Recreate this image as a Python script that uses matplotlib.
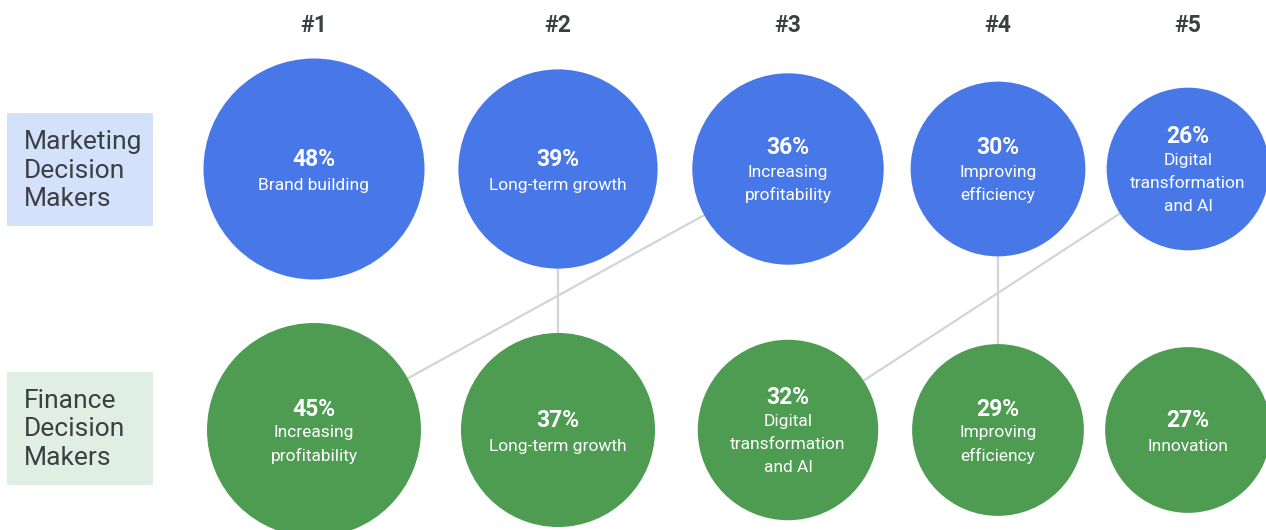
import numpy as np
import matplotlib.pyplot as plt
from matplotlib.patches import Circle, Rectangle

plt.rcParams['font.family'] = ['Roboto', 'DejaVu Sans']

ranks = ['#1', '#2', '#3', '#4', '#5']
groups = ['Marketing\nDecision\nMakers', 'Finance\nDecision\nMakers']

mkt_pct = [48, 39, 36, 30, 26]
mkt_labels = ['Brand building', 'Long-term growth', 'Increasing\nprofitability',
              'Improving\nefficiency', 'Digital\ntransformation\nand AI']

fin_pct = [45, 37, 32, 29, 27]
fin_labels = ['Increasing\nprofitability', 'Long-term growth',
              'Digital\ntransformation\nand AI', 'Improving\nefficiency', 'Innovation']

# layout (pixel space, y grows downward)
col_x = [314, 558, 788, 998, 1188]
row_y = [169, 430]
k = 15.95  # radius scale, area ~ value
colors = ['#4878E8', '#4E9C51']
box_colors = ['#D3E1FB', '#DFEFE3']
text_dark = '#3C4043'

fig = plt.figure(figsize=(12.66, 5.30), dpi=100)
ax = fig.add_axes([0, 0, 1, 1])
ax.set_xlim(0, 1266)
ax.set_ylim(530, 0)
ax.axis('off')

# connectors between the same priority in both groups
key = lambda s: s.replace('\n', ' ')
for i, ml in enumerate(mkt_labels):
    for j, fl in enumerate(fin_labels):
        if key(ml) == key(fl):
            ax.plot([col_x[i], col_x[j]], [row_y[0], row_y[1]],
                    color='#D2D4D7', lw=1.6, zorder=1, solid_capstyle='butt')

for r, (pcts, labels) in enumerate([(mkt_pct, mkt_labels), (fin_pct, fin_labels)]):
    for i, (v, lab) in enumerate(zip(pcts, labels)):
        cx, cy = col_x[i], row_y[r]
        ax.add_patch(Circle((cx, cy), k * np.sqrt(v), color=colors[r], lw=0, zorder=2))
        lines = lab.split('\n')
        n = len(lines) + 1
        step = 23
        y0 = cy + 3 - (n - 1) / 2 * step
        ax.text(cx, y0 - 1, f'{v}%', color='white', fontsize=16.5, fontweight='bold',
                ha='center', va='center', zorder=3)
        for m, ln in enumerate(lines):
            ax.text(cx, y0 + (m + 1) * step + (2 if n == 2 else 0), ln, color='white',
                    fontsize=12.5, ha='center', va='center', zorder=3)

for i, rk in enumerate(ranks):
    ax.text(col_x[i], 26, rk, color=text_dark, fontsize=16.5, fontweight='bold',
            ha='center', va='center')

box_top = [113, 372]
for r, g in enumerate(groups):
    ax.add_patch(Rectangle((7, box_top[r]), 146, 113, color=box_colors[r], lw=0))
    for m, ln in enumerate(g.split('\n')):
        ax.text(24, box_top[r] + 29 + m * 28.5, ln, color=text_dark, fontsize=19,
                ha='left', va='center')

fig.savefig('out.png', dpi=100)
